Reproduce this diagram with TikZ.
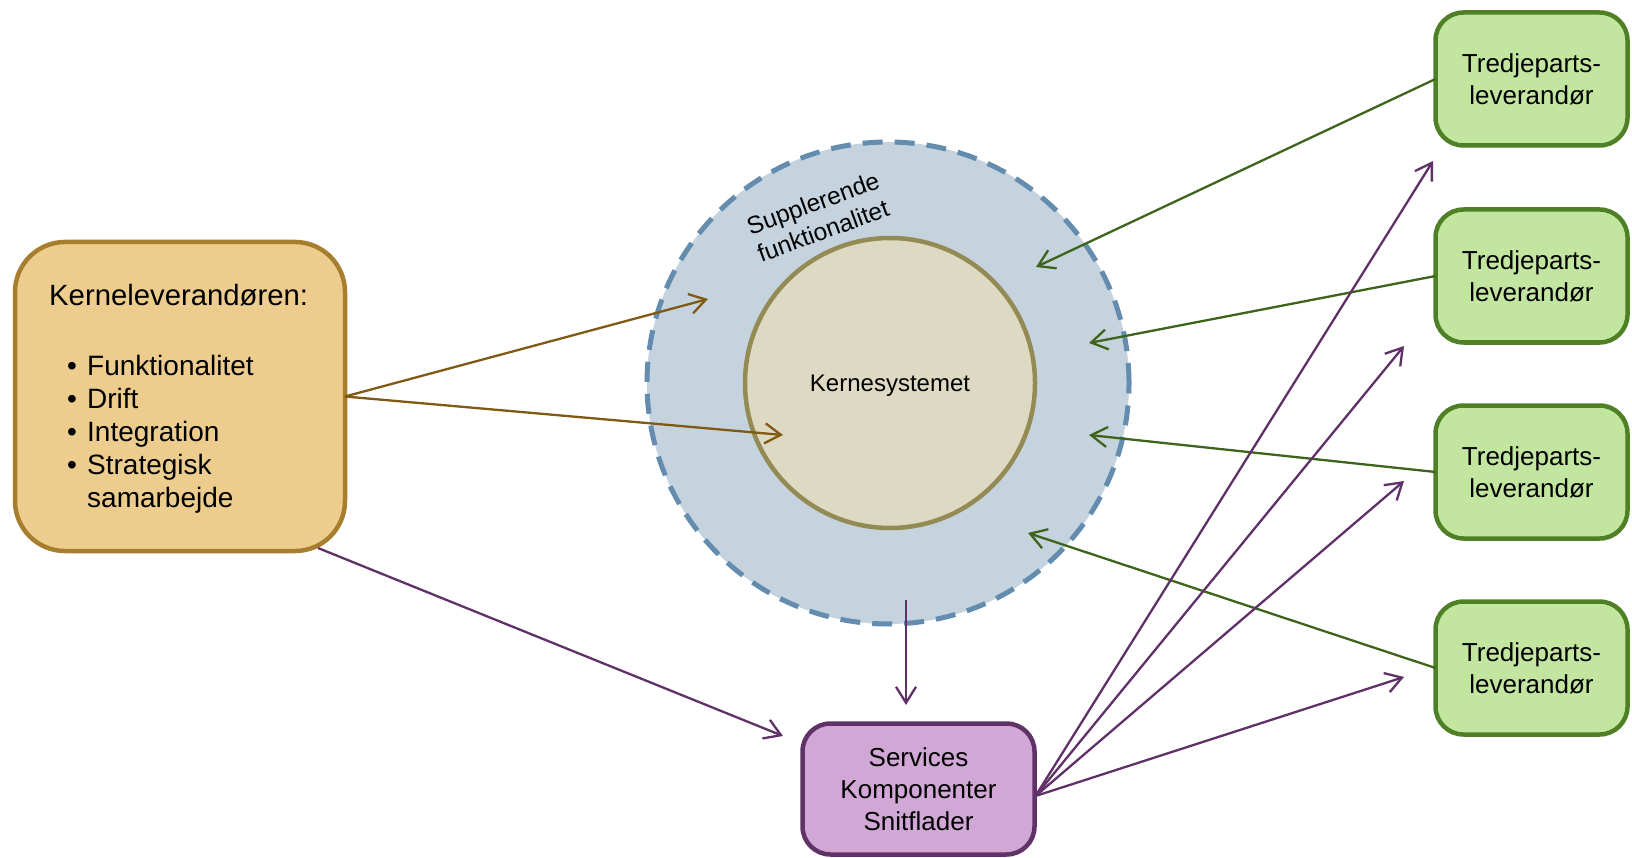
\documentclass[tikz,border=0pt]{standalone}
\usepackage{fontspec}
\setmainfont{Liberation Sans}
\usetikzlibrary{arrows.meta,calc}
\definecolor{klfill}{RGB}{237,205,142}
\definecolor{klborder}{RGB}{166,126,46}
\definecolor{outerfill}{RGB}{197,211,223}
\definecolor{outerborder}{RGB}{100,140,175}
\definecolor{innerfill}{RGB}{221,217,195}
\definecolor{innerborder}{RGB}{148,138,84}
\definecolor{gfill}{RGB}{194,229,159}
\definecolor{gborder}{RGB}{79,128,37}
\definecolor{pfill}{RGB}{209,168,213}
\definecolor{pborder}{RGB}{96,50,104}
\definecolor{brownc}{RGB}{128,90,20}
\definecolor{greenc}{RGB}{62,100,28}
\definecolor{purplec}{RGB}{96,48,104}
\begin{document}
\begin{tikzpicture}[x=1pt,y=-1pt,
  box/.style={draw, line width=4.5pt, outer sep=0pt, inner sep=0pt},
  conn/.style={line width=2.3pt, -{Straight Barb[length=16pt,width=20pt]}},
  greenbox/.style={box, draw=gborder, fill=gfill, rounded corners=28pt,
    minimum width=192pt, minimum height=133pt, align=center,
    font=\fontsize{26}{32}\selectfont}]
\useasboundingbox (0,0) rectangle (1632,858);

% left box
\node[box, draw=klborder, fill=klfill, rounded corners=50pt,
  minimum width=330pt, minimum height=309pt] (kl) at (180,396.5) {};
\node[anchor=base west, inner sep=0pt, font=\fontsize{29.3}{33}\selectfont]
  (kltitle) at (49,306) {Kerneleverandøren:};
\node[anchor=base west, inner sep=0pt, font=\fontsize{28}{33}\selectfont]
  (klitems) at (67,375) {\begin{tabular}[t]{@{}p{20pt}@{}l@{}}
  \textbullet & Funktionalitet\\
  \textbullet & Drift\\
  \textbullet & Integration\\
  \textbullet & Strategisk\\
   & samarbejde
  \end{tabular}};

% circles
\node[circle, fill=outerfill, draw=outerborder, line width=5pt,
  dash pattern=on 20pt off 12pt, minimum size=482pt,
  inner sep=0pt, outer sep=0pt] (outer) at (888,383) {};
\node[circle, fill=innerfill, draw=innerborder, line width=4.5pt,
  minimum size=290pt, inner sep=0pt, outer sep=0pt,
  text height=17.2pt, text depth=0pt,
  font=\fontsize{24}{28}\selectfont] (inner) at (890,383) {Kernesystemet};
\node[rotate=20, align=center, font=\fontsize{24.5}{29.5}\selectfont]
  (supp) at (818,217) {Supplerende\\funktionalitet};

% third party boxes
\node[greenbox] (t1) at (1531.5,79) {Tredjeparts-\\leverandør};
\node[greenbox] (t2) at (1531.5,276) {Tredjeparts-\\leverandør};
\node[greenbox] (t3) at (1531.5,472) {Tredjeparts-\\leverandør};
\node[greenbox] (t4) at (1531.5,668) {Tredjeparts-\\leverandør};

% services box
\node[box, draw=pborder, fill=pfill, rounded corners=28pt,
  minimum width=232pt, minimum height=131pt, align=center,
  font=\fontsize{26}{32}\selectfont] (svc) at (918.5,789)
  {Services\\Komponenter\\Snitflader};

% arrow end points
\coordinate (a1) at (708,299);
\coordinate (a2) at (783,435);
\coordinate (a3) at (783,736);
\coordinate (a4) at (906,705);
\coordinate (g1) at (1036,267);
\coordinate (g2) at (1089,343);
\coordinate (g3) at (1089,435);
\coordinate (g4) at (1028,533);
\coordinate (p1) at (1433,161);
\coordinate (p2) at (1404,346);
\coordinate (p3) at (1404,481);
\coordinate (p4) at (1404,677);

% connectors
\draw[conn, brownc] (kl.east) -- (a1);
\draw[conn, brownc] (kl.east) -- (a2);
\draw[conn, purplec] ([shift={(-27,-3)}]kl.south east) -- (a3);
\draw[conn, purplec] ([shift={(18,-24)}]outer.south) -- (a4);

\draw[conn, greenc] (t1.west) -- (g1);
\draw[conn, greenc] (t2.west) -- (g2);
\draw[conn, greenc] (t3.west) -- (g3);
\draw[conn, greenc] (t4.west) -- (g4);

\draw[conn, purplec] ([shift={(1,7)}]svc.east) -- (p1);
\draw[conn, purplec] ([shift={(1,7)}]svc.east) -- (p2);
\draw[conn, purplec] ([shift={(1,7)}]svc.east) -- (p3);
\draw[conn, purplec] ([shift={(1,7)}]svc.east) -- (p4);
\end{tikzpicture}
\end{document}
